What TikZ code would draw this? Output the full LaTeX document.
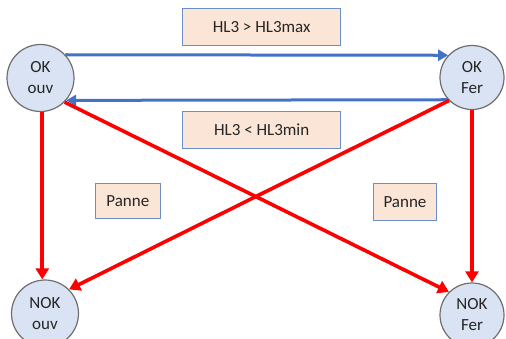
\documentclass[tikz,border=0pt]{standalone}
\usepackage{fontspec}
\setmainfont{Carlito}
\usetikzlibrary{arrows.meta}
\definecolor{stfill}{HTML}{DAE3F3}
\definecolor{stdraw}{HTML}{6E6E6E}
\definecolor{boxfill}{HTML}{FBE5D6}
\definecolor{boxdraw}{HTML}{6C8EC9}
\definecolor{bluearr}{HTML}{4472C4}
\definecolor{redarr}{HTML}{FF0000}
\definecolor{txt}{HTML}{262626}
\begin{document}
\begin{tikzpicture}[x=1pt,y=-1pt,
  state/.style={circle,draw=stdraw,line width=1.2pt,fill=stfill,inner sep=0pt,
    align=center,text=txt,font=\fontsize{17}{21}\selectfont},
  label box/.style={draw=boxdraw,line width=0.9pt,fill=boxfill,inner sep=0pt,
    text=txt,font=\fontsize{17}{21}\selectfont},
  bluearrow/.style={draw=bluearr,line width=3pt,-{Triangle[length=10pt,width=11pt]}},
  redarrow/.style={draw=redarr,line width=3.6pt,-{Triangle[length=11pt,width=13pt]}}]
\useasboundingbox (0,0) rectangle (506,338);
\node[state,minimum size=67pt] (okouv) at (40.5,78) {OK\\ouv};
\node[state,minimum size=64pt] (okfer) at (472,77.5) {OK\\Fer};
\node[state,minimum size=67pt] (nokouv) at (45,313.5) {NOK\\ouv};
\node[state,minimum size=64pt] (nokfer) at (472,315) {NOK\\Fer};
\node[label box,minimum width=158pt,minimum height=36.7pt] (hmax) at (261.7,26.7) {HL3 > HL3max};
\node[label box,minimum width=158pt,minimum height=36.7pt] (hmin) at (261.7,130) {HL3 < HL3min};
\node[label box,minimum width=65.7pt,minimum height=35pt] (p1) at (127.8,200.8) {Panne};
\node[label box,minimum width=63.4pt,minimum height=37pt] (p2) at (405,202) {Panne};
\draw[bluearrow] (okouv.43) -- (okfer.137);
\draw[bluearrow] (okfer.-137) -- (okouv.-41);
\draw[redarrow] (okouv.-87) -- (okouv.-87 |- nokouv.north);
\draw[redarrow] (okfer.south) -- (nokfer.north);
\draw[redarrow] (okouv.-45) -- (nokfer.135);
\draw[redarrow] (okfer.-135) -- (nokouv.45);
\end{tikzpicture}
\end{document}
